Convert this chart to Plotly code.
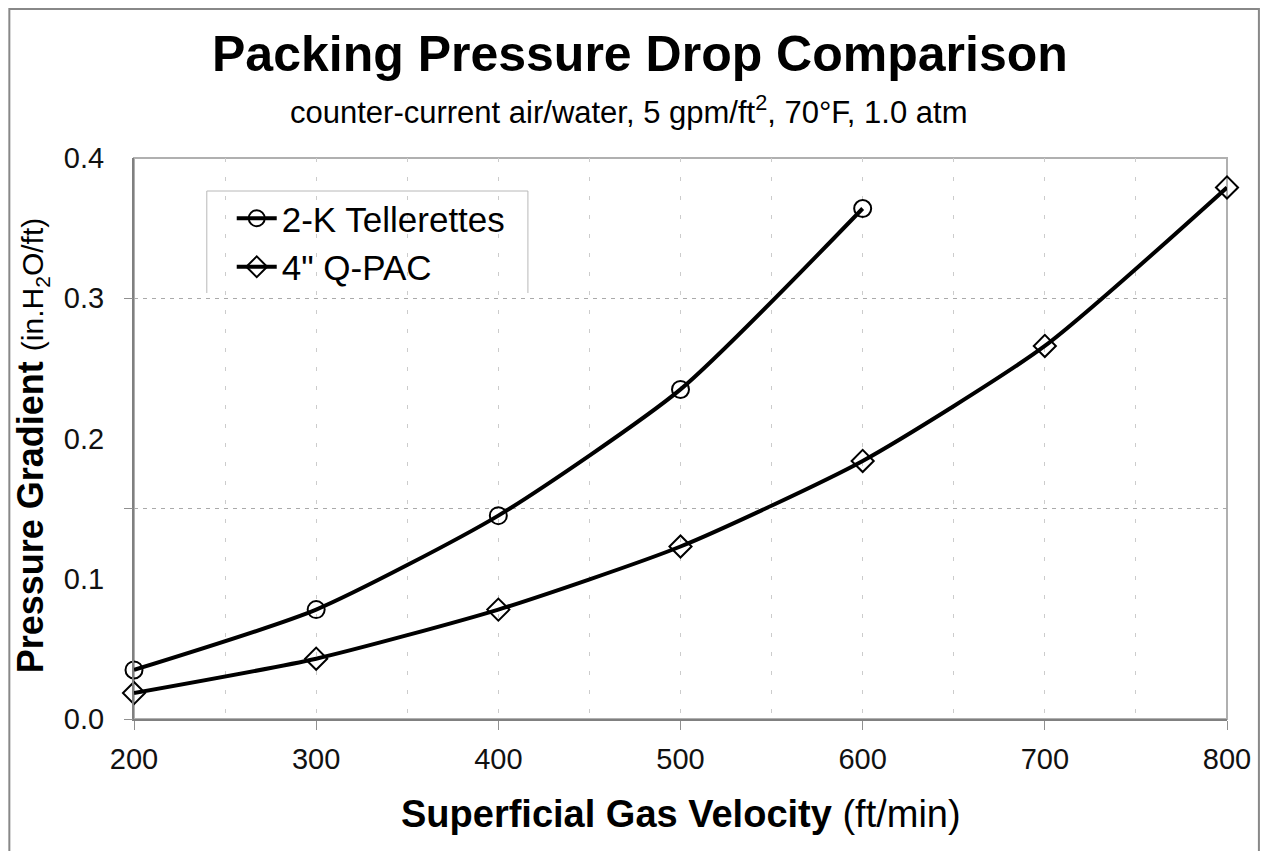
import plotly.graph_objects as go

velocity_tell = [200, 300, 400, 500, 600]
dp_tell = [0.035, 0.078, 0.145, 0.235, 0.364]
velocity_qpac = [200, 300, 400, 500, 600, 700, 800]
dp_qpac = [0.0185, 0.043, 0.078, 0.123, 0.184, 0.266, 0.379]
y_tick_vals = [0.0, 0.1, 0.2, 0.3, 0.4]
y_tick_text = ["0.0", "0.1", "0.2", "0.3", "0.4"]
y_grid_vals = [0.0, 0.15, 0.3]
x_tick_vals = [200, 300, 400, 500, 600, 700, 800]
FONT = "Liberation Sans, Arial, sans-serif"

# screen pixel -> paper helpers (plot area on screen: x 134..1230, y 158..719)
def px(xs):
    return (xs - 134) / 1096.0

def py(ys):
    return (719 - ys) / 561.0

fig = go.Figure()
fig.add_trace(go.Scatter(
    x=velocity_tell, y=dp_tell, name="2-K Tellerettes", mode="lines+markers",
    line=dict(color="black", width=4, shape="spline", smoothing=0.6),
    marker=dict(symbol="circle-open", size=17, color="black", line=dict(width=2)),
    cliponaxis=False,
))
fig.add_trace(go.Scatter(
    x=velocity_qpac, y=dp_qpac, name="4\" Q-PAC", mode="lines+markers",
    line=dict(color="black", width=4, shape="spline", smoothing=0.6),
    marker=dict(symbol="diamond-open", size=17, color="black", line=dict(width=2)),
    cliponaxis=False,
))
fig.add_trace(go.Scatter(x=[200], y=[0], yaxis="y2", showlegend=False,
                         mode="markers", marker=dict(opacity=0), hoverinfo="skip"))

fig.update_layout(
    width=1255, height=843,
    margin=dict(l=126, r=33, t=150, b=132),
    paper_bgcolor="white", plot_bgcolor="white",
    font=dict(family=FONT, color="black"),
    showlegend=True,
    legend=dict(
        x=px(232), y=py(189), xanchor="left", yanchor="top",
        borderwidth=0, bgcolor="rgba(0,0,0,0)",
        font=dict(size=35, family=FONT), tracegroupgap=0, itemwidth=40,
    ),
    xaxis=dict(
        range=[200, 800], tickvals=x_tick_vals, ticks="outside", ticklen=9,
        tickcolor="#909090", tickwidth=1,
        showline=True, linecolor="#808080", linewidth=2,
        showgrid=True, gridcolor="#cccccc", gridwidth=1, griddash="4px,15px",
        minor=dict(dtick=50, tick0=200, showgrid=True, gridcolor="#cccccc",
                   griddash="4px,15px", ticks=""),
        tickfont=dict(size=29, family=FONT, color="#111"),
        ticklabelstandoff=4,
        zeroline=False,
    ),
    yaxis=dict(
        range=[0, 0.4], tickvals=y_tick_vals, ticktext=y_tick_text, ticks="",
        showline=True, linecolor="#808080", linewidth=2,
        showgrid=False, zeroline=False,
        tickfont=dict(size=29, family=FONT, color="#111"),
        ticklabelstandoff=22,
    ),
    yaxis2=dict(
        range=[0, 0.4], overlaying="y", side="left", tickvals=y_grid_vals,
        showticklabels=False, ticks="outside", ticklen=9, tickcolor="#909090",
        showgrid=True, gridcolor="#aaaaaa", gridwidth=1, griddash="4px,5px",
        zeroline=False, showline=False,
    ),
    annotations=[
        dict(text="<b>Packing Pressure Drop Comparison</b>", xref="paper", yref="paper",
             x=px(641), y=py(54), xanchor="center", yanchor="middle", showarrow=False,
             font=dict(size=50, family=FONT)),
        dict(text="counter-current air/water, 5 gpm/ft<sup>2</sup>, 70°F, 1.0 atm",
             xref="paper", yref="paper", x=px(630), y=py(110), xanchor="center",
             yanchor="middle", showarrow=False, font=dict(size=31, family=FONT)),
        dict(text="<b>Superficial Gas Velocity</b> (ft/min)", xref="paper", yref="paper",
             x=px(683), y=py(814), xanchor="center", yanchor="middle", showarrow=False,
             font=dict(size=38, family=FONT)),
        dict(text="<b>Pressure Gradient</b> <span style='font-size:30px'>(in.H<sub>2</sub>O/ft)</span>",
             xref="paper", yref="paper", x=px(31), y=py(445), xanchor="center",
             yanchor="middle", textangle=-90, showarrow=False,
             font=dict(size=36, family=FONT)),
    ],
    shapes=[
        dict(type="rect", xref="paper", yref="paper", x0=0, x1=1, y0=0, y1=1,
             line=dict(color="#b0b0b0", width=2), layer="below"),
        # legend box (open at the bottom, as in the original)
        dict(type="rect", xref="paper", yref="paper", x0=px(207), x1=px(529),
             y0=py(293), y1=py(191), fillcolor="white", line=dict(width=0),
             layer="between"),
        dict(type="path", xref="paper", yref="paper",
             path=f"M {px(207)} {py(293)} L {px(207)} {py(191)} L {px(529)} {py(191)} L {px(529)} {py(293)}",
             line=dict(color="#b8b8b8", width=1), layer="between"),
        # outer chart frame
        dict(type="rect", xref="paper", yref="paper", x0=px(9), x1=px(1262),
             y0=py(900), y1=py(9), line=dict(color="#888888", width=2), layer="above"),
    ],
)

fig.write_html("out.html")
